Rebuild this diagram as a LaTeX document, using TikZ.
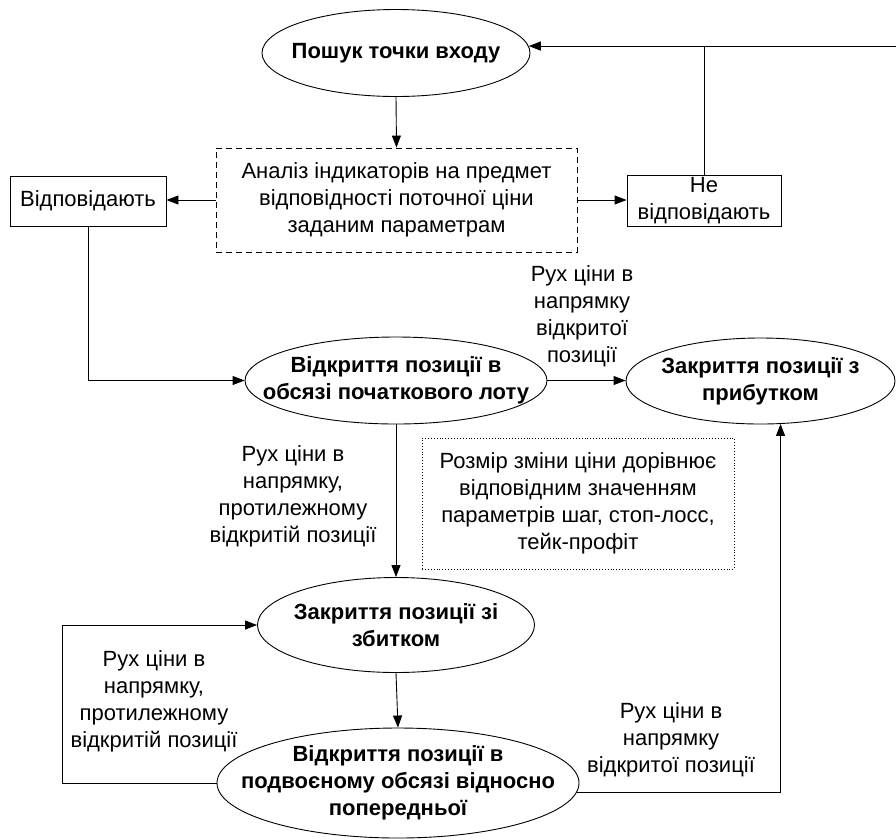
\documentclass[tikz,border=0pt]{standalone}
\usepackage{fontspec}
\setmainfont{Liberation Sans}
\usetikzlibrary{shapes.geometric,arrows.meta,calc}
\tikzset{
  base/.style={font=\fontsize{22}{27}\selectfont, align=center, inner sep=0pt},
  oval/.style={ellipse, draw, line width=0.9pt, inner sep=0pt},
  ovaltext/.style={base, font=\fontsize{22}{27}\selectfont\bfseries},
  plainbox/.style={base, draw, line width=0.9pt},
  lbl/.style={base},
  conn/.style={line width=0.9pt, -{Triangle[length=12pt,width=9pt]}},
  line/.style={line width=0.9pt}
}
\begin{document}
\begin{tikzpicture}[x=1pt,y=-1pt]
\useasboundingbox (0,0) rectangle (896,839);
% nodes
\node[oval, minimum width=268pt, minimum height=87pt] (e1) at (396,53) {};
\node[ovaltext] (t1) at (e1.center) {Пошук точки входу};
\node[plainbox, dashed, dash pattern=on 6pt off 4pt, minimum width=361pt, minimum height=104pt] (anal) at (396.5,200) {Аналіз індикаторів на предмет\\відповідності поточної ціни\\заданим параметрам};
\node[plainbox, minimum width=156pt, minimum height=50pt] (vidp) at (88,201) {Відповідають};
\node[plainbox, minimum width=154pt, minimum height=51pt] (nevid) at (704,200.5) {Не\\відповідають};
\node[oval, minimum width=302pt, minimum height=87pt] (e2) at (396,380.5) {};
\node[ovaltext] (t2) at (e2.center) {Відкриття позиції в\\обсязі початкового лоту};
\node[oval, minimum width=269pt, minimum height=86pt] (e3) at (760.5,381) {};
\node[ovaltext] (t3) at (e3.center) {Закриття позиції з\\прибутком};
\node[oval, minimum width=277pt, minimum height=95pt] (e4) at (396,625) {};
\node[ovaltext] (t4) at (e4.center) {Закриття позиції зі\\збитком};
\node[oval, minimum width=362pt, minimum height=110pt] (e5) at (398,783) {};
\node[ovaltext] (t5) at (e5.center) {Відкриття позиції в\\подвоєному обсязі відносно\\попередньої};
\node[plainbox, dotted, minimum width=312pt, minimum height=131pt] (note) at (578,503.5) {Розмір зміни ціни дорівнює\\відповідним значенням\\параметрів шаг, стоп-лосс,\\тейк-профіт};
% labels
\node[lbl] (l1) at (582,316) {Рух ціни в\\напрямку\\відкритої\\позиції};
\node[lbl] (l2) at (293,496) {Рух ціни в\\напрямку,\\протилежному\\відкритій позиції};
\node[lbl] (l3) at (154,701) {Рух ціни в\\напрямку,\\протилежному\\відкритій позиції};
\node[lbl] (l4) at (671,740) {Рух ціни в\\напрямку\\відкритої позиції};
% helper coordinates
\coordinate (rt) at (896,0);
\coordinate (lx) at (62,0);
% connectors
\draw[conn] (e1.south) -- (anal.north);
\draw[conn] (anal.west) -- (anal.west -| vidp.east);
\draw[conn] (anal.east) -- (anal.east -| nevid.west);
\draw[conn] (e1.3 -| rt) -- (e1.3);
\draw[line] (nevid.north) -- (nevid.north |- e1.3);
\draw[conn] (vidp.south) |- (e2.west);
\draw[conn] (e2.east) -- (e2.east -| e3.west);
\draw[conn] (e2.south) -- (e4.north);
\draw[conn] (e4.south) -- (e5.north);
\draw[conn] (e5.west) -- (e5.west -| lx) |- (e4.west);
\draw[conn] (e5.-3) -| (e3.-65);
\end{tikzpicture}
\end{document}
